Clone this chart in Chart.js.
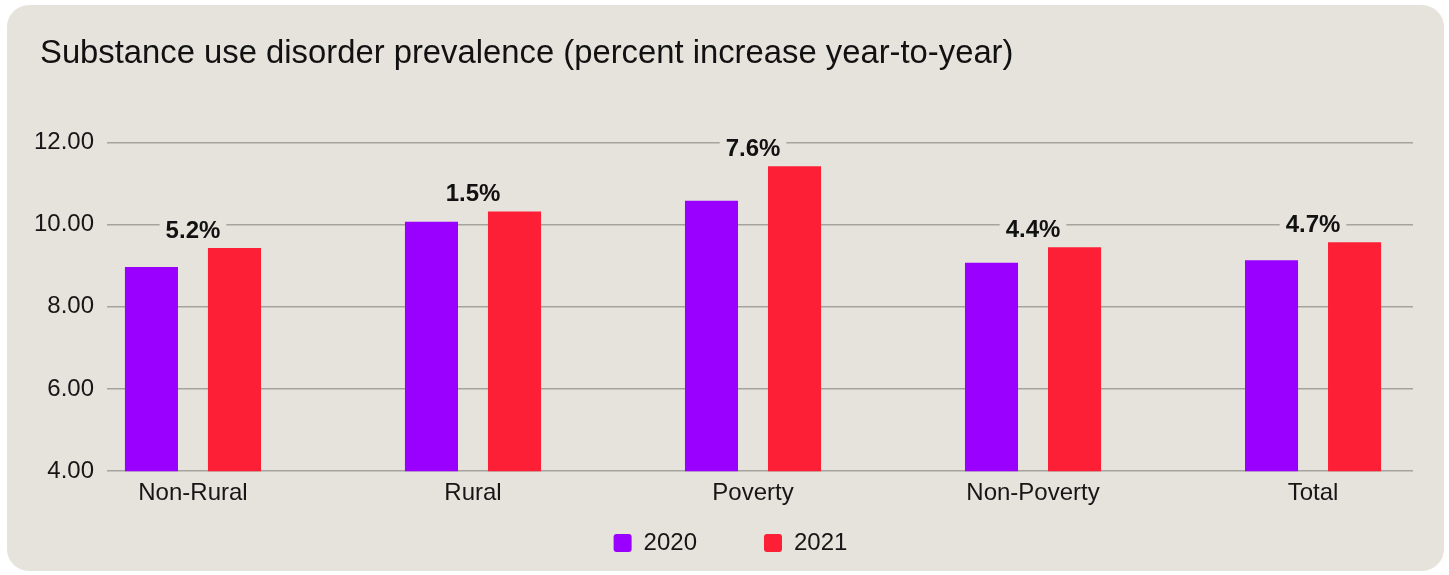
<!DOCTYPE html>
<html><head><meta charset="utf-8">
<script src="https://cdn.jsdelivr.net/npm/chart.js@4.4.1/dist/chart.umd.min.js"></script>
<style>
html,body{margin:0;padding:0;background:#fff;overflow:hidden;}
#card{position:absolute;left:7px;top:5px;width:1437px;height:566px;background:#e6e2dc;border-radius:22px;}
#wrap{position:absolute;left:0;top:0;width:1449px;height:575px;overflow:hidden;}
</style></head><body>
<div id="card"></div>
<div id="wrap"><canvas id="c" width="1449" height="640"></canvas></div>
<script>
const categories = ["Non-Rural", "Rural", "Poverty", "Non-Poverty", "Total"];
const seriesNames = ["2020", "2021"];
const values2020 = [8.97, 10.07, 10.58, 9.07, 9.13];
const values2021 = [9.43, 10.32, 11.42, 9.45, 9.57];
const increaseLabels = ["5.2%", "1.5%", "7.6%", "4.4%", "4.7%"];
const yTickValues = [4, 6, 8, 10, 12];

const CARD_BG = '#e6e2dc';
const FONT = '"Liberation Sans", Arial, sans-serif';
const TEXT = '#161616';
const LEGEND_SHIFT_Y = 52;
const LEGEND_SHIFT_X = 9;
const TITLE_INDENT = 10;

const increasePlugin = {
  id: 'increaseLabels',
  afterDatasetsDraw(chart) {
    const { ctx, scales: { x, y } } = chart;
    ctx.save();
    ctx.font = 'bold 24px ' + FONT;
    ctx.textAlign = 'center';
    ctx.textBaseline = 'alphabetic';
    increaseLabels.forEach((t, i) => {
      const px = x.getPixelForValue(i);
      const py = y.getPixelForValue(Math.max(values2020[i], values2021[i])) - 10;
      const w = ctx.measureText(t).width;
      ctx.fillStyle = CARD_BG;
      ctx.fillRect(px - w / 2 - 6, py - 20, w + 12, 24);
      ctx.fillStyle = '#111';
      ctx.fillText(t, px, py);
    });
    ctx.restore();
  }
};

const layoutTweakPlugin = {
  id: 'layoutTweak',
  afterLayout(chart) {
    if (chart.legend) {
      chart.legend.top -= LEGEND_SHIFT_Y;
      chart.legend.bottom -= LEGEND_SHIFT_Y;
      chart.legend.left += LEGEND_SHIFT_X;
      chart.legend.right += LEGEND_SHIFT_X;
    }
    if (chart.titleBlock) {
      chart.titleBlock.left += TITLE_INDENT;
    }
  }
};

new Chart(document.getElementById('c'), {
  type: 'bar',
  data: {
    datasets: [
      { label: seriesNames[0], data: values2020.map((v, i) => ({ x: i, y: v })), backgroundColor: '#9900ff', borderWidth: 0 },
      { label: seriesNames[1], data: values2021.map((v, i) => ({ x: i, y: v })), backgroundColor: '#fc1f35', borderWidth: 0 }
    ]
  },
  options: {
    responsive: false,
    devicePixelRatio: 1,
    animation: false,
    categoryPercentage: 0.593,
    barPercentage: 0.639,
    layout: { padding: { left: 30, right: 36, top: 0, bottom: 23 } },
    scales: {
      x: {
        type: 'linear',
        offset: false,
        min: -0.307,
        max: 4.357,
        grid: { display: false, drawTicks: false },
        border: { display: false },
        ticks: {
          stepSize: 1,
          includeBounds: false,
          autoSkip: false,
          maxRotation: 0,
          padding: 8,
          color: TEXT,
          font: { family: FONT, size: 24 },
          callback: (v) => Number.isInteger(v) ? categories[v] : ''
        }
      },
      y: {
        min: yTickValues[0],
        max: yTickValues[yTickValues.length - 1],
        afterFit: (s) => { s.width = 77; },
        afterBuildTicks: (s) => { s.ticks = yTickValues.map(v => ({ value: v })); },
        grid: { color: '#a6a39e', lineWidth: 1.5, drawTicks: false },
        border: { display: false },
        ticks: {
          padding: 13,
          color: TEXT,
          font: { family: FONT, size: 24 },
          callback: (v) => Number(v).toFixed(2)
        }
      }
    },
    plugins: {
      tooltip: { enabled: false },
      title: {
        display: true,
        text: 'Substance use disorder prevalence (percent increase year-to-year)',
        align: 'start',
        color: '#111',
        font: { family: FONT, size: 32.8, weight: 400 },
        padding: { top: 34, bottom: 69 }
      },
      legend: {
        position: 'bottom',
        labels: {
          boxWidth: 18,
          boxHeight: 18,
          useBorderRadius: true,
          borderRadius: 3,
          padding: 67,
          color: TEXT,
          font: { family: FONT, size: 24 }
        }
      }
    }
  },
  plugins: [increasePlugin, layoutTweakPlugin]
});
</script>
</body></html>
